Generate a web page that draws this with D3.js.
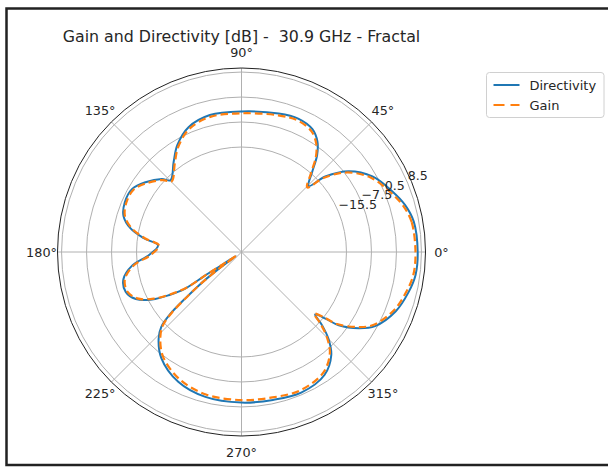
<!DOCTYPE html>
<html>
<head>
<meta charset="utf-8">
<script src="https://cdn.jsdelivr.net/npm/d3@7"></script>
<style>
  html, body { margin: 0; padding: 0; background: #fff; }
  svg { display: block; font-family: "DejaVu Sans", sans-serif; }
  .title { white-space: pre; }
</style>
</head>
<body>
<svg id="chart" width="608" height="468"></svg>
<script>
// Angles in degrees (counter-clockwise from 0°) and levels in dB
const thetaDeg = [0, 10, 16, 22, 30, 37, 42, 44.5, 48.5, 52, 55.5, 60, 67, 75, 90, 103, 113, 121, 127, 134.7,
  137.5, 144, 150, 157, 163, 168, 172, 175.5, 182, 187, 193, 199, 204, 208, 210.7, 213, 212.9, 213.5, 215.5,
  216.5, 218, 219.5, 221, 223, 226.3, 233, 244, 256, 270, 282, 293, 304, 311, 315, 317.7, 319.7, 321.6, 323,
  327, 331, 339, 346.5, 352.5];
const directivity = [7.3, 6.9, 5.4, 2.9, -0.7, -6.1, -13.0, -19.0, -15.0, -9.8, -6.2, -3.7, -2.7, -3.2, -4.1, -4.1, -5.7, -9.2, -13.0, -16.8,
  -14.5, -11.1, -8.7, -8.5, -9.6, -12.8, -17.5, -22.3, -19.4, -13.9, -10.3, -9.9, -12.1, -16.7, -22.0, -27.6, -35.3, -42.0, -46.8,
  -40.0, -32.0, -26.0, -19.0, -14.0, -10.7, -6.5, -2.9, -1.3, -0.9, -0.7, -0.2, -1.6, -5.3, -9.7, -14.2, -18.2, -14.8, -10.1,
  -4.3, -0.2, 3.8, 5.9, 7.1];
const gain = [6.6, 6.2, 4.7, 2.2, -1.4, -6.8, -13.6, -19.6, -15.6, -10.4, -6.9, -4.4, -3.3, -3.8, -4.7, -4.7, -6.3, -9.8, -13.6, -17.3,
  -15.0, -11.6, -9.2, -9.0, -10.1, -13.3, -18.0, -22.6, -19.9, -14.4, -10.8, -10.4, -12.6, -17.3, -22.5, -28.1, -35.8, -42.5, -47.0,
  -40.5, -32.5, -26.6, -19.7, -14.7, -11.5, -7.3, -3.8, -2.1, -1.7, -1.5, -1.0, -2.4, -6.0, -10.4, -14.8, -18.6, -15.4, -10.8,
  -5.0, -0.9, 3.1, 5.2, 6.4];

const rTicks = [-15.5, -7.5, 0.5, 8.5];
const thetaTicks = [0, 45, 90, 135, 180, 225, 270, 315];
const rLimits = [-49.1, 9.8];
const titleText = "Gain and Directivity [dB] -  30.9 GHz - Fractal";
const seriesNames = ["Directivity", "Gain"];

const svg = d3.select("#chart");
const cx = 241.5, cy = 252, R = 184;
const rScale = d3.scaleLinear().domain(rLimits).range([0, R]);
const toRad = d => d * Math.PI / 180;

// frame around the figure
svg.append("rect")
  .attr("x", 6.5).attr("y", 8.5).attr("width", 700).attr("height", 456.5)
  .attr("fill", "none").attr("stroke", "#222").attr("stroke-width", 2.5);

const g = svg.append("g").attr("transform", `translate(${cx},${cy})`);

// radial grid circles
g.selectAll("circle.grid").data(rTicks).join("circle")
  .attr("class", "grid")
  .attr("r", d => rScale(d))
  .attr("fill", "none").attr("stroke", "#b0b0b0").attr("stroke-width", 1);

// angular grid lines
g.selectAll("line.spoke").data(thetaTicks).join("line")
  .attr("class", "spoke")
  .attr("x1", 0).attr("y1", 0)
  .attr("x2", d => R * Math.cos(toRad(d)))
  .attr("y2", d => -R * Math.sin(toRad(d)))
  .attr("stroke", "#b0b0b0").attr("stroke-width", 1);

// outer spine
g.append("circle").attr("r", R).attr("fill", "none").attr("stroke", "#222").attr("stroke-width", 1);

// pattern curves
const radial = d3.lineRadial()
  .angle(d => Math.PI / 2 - toRad(d[0]))
  .radius(d => rScale(d[1]))
  .curve(d3.curveCatmullRomClosed.alpha(0.5));

const dirPts = thetaDeg.map((t, i) => [t, directivity[i]]);
const gainPts = thetaDeg.map((t, i) => [t, gain[i]]);

g.append("path").attr("d", radial(dirPts))
  .attr("fill", "none").attr("stroke", "#1f77b4").attr("stroke-width", 2)
  .attr("stroke-linejoin", "round");
g.append("path").attr("d", radial(gainPts))
  .attr("fill", "none").attr("stroke", "#ff7f0e").attr("stroke-width", 2.2)
  .attr("stroke-dasharray", "7.5,4");

// angular tick labels
g.selectAll("text.theta").data(thetaTicks).join("text")
  .attr("class", "theta")
  .attr("x", d => 200 * Math.cos(toRad(d)))
  .attr("y", d => -200 * Math.sin(toRad(d)))
  .attr("text-anchor", "middle").attr("dominant-baseline", "central")
  .attr("font-size", 12.8).attr("fill", "#262626")
  .text(d => d + "°");

// radial tick labels along 22.5°
const rlab = toRad(22.5);
g.selectAll("text.rlabel").data(rTicks).join("text")
  .attr("class", "rlabel")
  .attr("x", d => rScale(d) * Math.cos(rlab))
  .attr("y", d => -rScale(d) * Math.sin(rlab) - 3)
  .attr("text-anchor", "start")
  .attr("font-size", 12.6).attr("fill", "#262626")
  .text(d => d3.format(".1f")(d).replace("-", "−"));

// title
svg.append("text")
  .attr("class", "title")
  .attr("x", cx).attr("y", 42)
  .attr("text-anchor", "middle").attr("font-size", 15.8).attr("fill", "#262626")
  .text(titleText);

// legend
const lg = svg.append("g").attr("transform", "translate(486.5,72.5)");
lg.append("rect").attr("width", 117.5).attr("height", 45).attr("rx", 3)
  .attr("fill", "#fff").attr("stroke", "#d0d0d0").attr("stroke-width", 1);
const styles = [
  { color: "#1f77b4", dash: null },
  { color: "#ff7f0e", dash: "11,6" }
];
seriesNames.forEach((name, i) => {
  const y = 12.5 + i * 20;
  lg.append("line").attr("x1", 7).attr("x2", 33).attr("y1", y).attr("y2", y)
    .attr("stroke", styles[i].color).attr("stroke-width", 2)
    .attr("stroke-dasharray", styles[i].dash);
  lg.append("text").attr("x", 43).attr("y", y)
    .attr("dominant-baseline", "central").attr("font-size", 13).attr("fill", "#262626")
    .text(name);
});
</script>
</body>
</html>
